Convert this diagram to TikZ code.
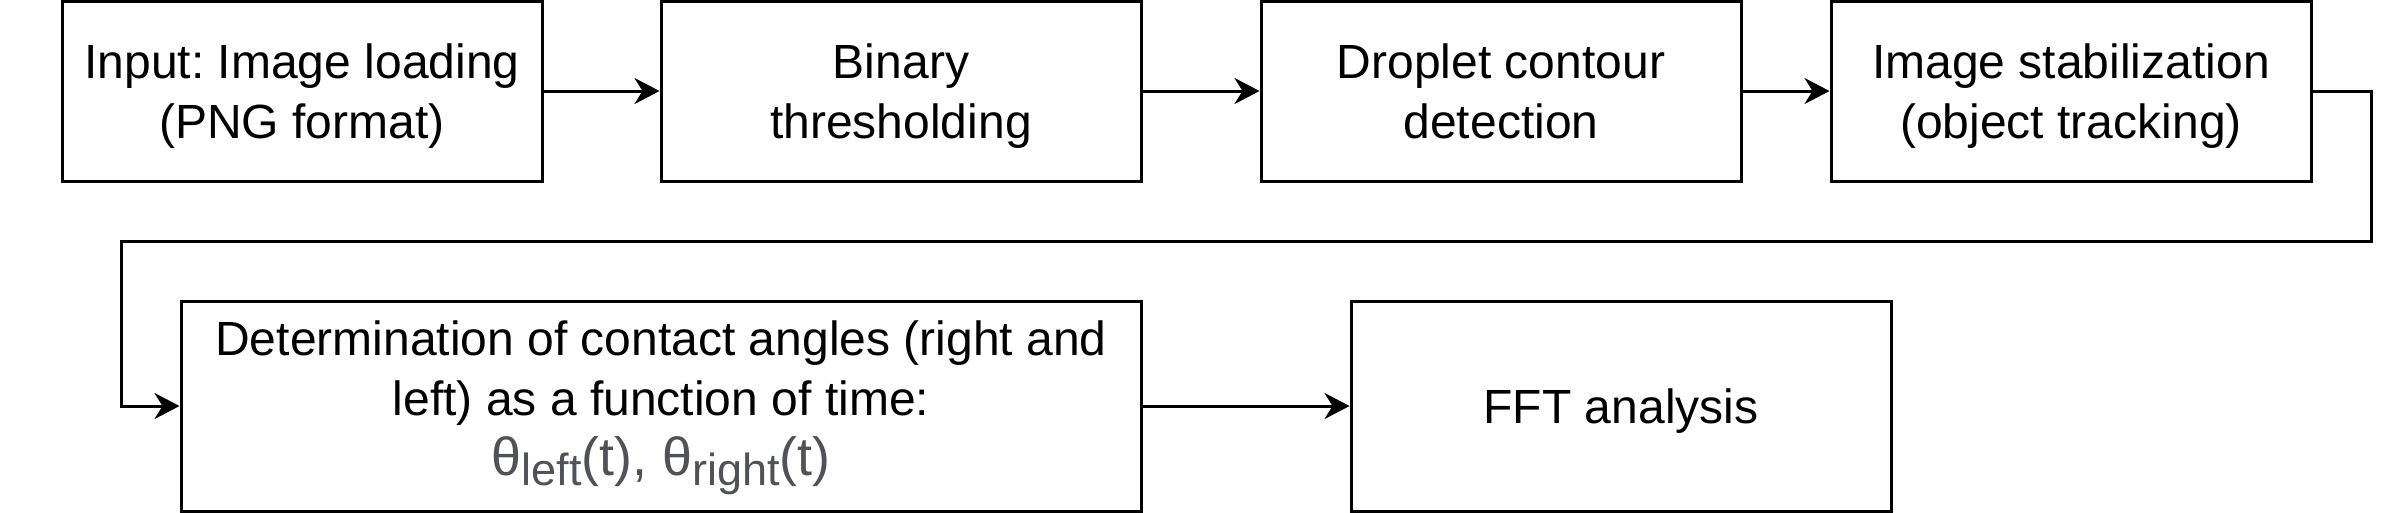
\documentclass[tikz,border=0pt]{standalone}
\usepackage{fontspec}
\setmainfont{Liberation Sans}
\frenchspacing
\usetikzlibrary{arrows.meta}
\definecolor{thetagray}{RGB}{80,82,88}
\newcommand{\sublow}[1]{\raisebox{-1mm}{\fontsize{12.8pt}{13pt}\selectfont #1}}
\begin{document}
\begin{tikzpicture}[x = 0.1mm, y = -0.1mm,
    stage/.style = {draw, line width = 0.3mm, rectangle, align = center,
        minimum width = 48mm, minimum height = 18mm, inner sep = 0pt,
        text depth = 0pt, font = \fontsize{13.66pt}{17.07pt}\selectfont},
    flow/.style  = {line width = 0.3mm,
        -{Stealth[length = 2.5mm, width = 2.6mm, inset = 0.8mm]}}]

    \useasboundingbox (0, 0) rectangle (2388, 512);

    % first row
    \node [stage] (load)   at (302, 91)  {Input: Image loading\\(PNG format)};
    \node [stage] (binary) at (901, 91)  {Binary\\thresholding};
    \node [stage] (contour) at (1501, 91) {Droplet contour\\detection};
    \node [stage] (stab)   at (2071, 91) {Image stabilization\\(object tracking)};

    % second row
    \node [stage, minimum width = 96mm, minimum height = 21mm, text depth = 1.6mm] (angles) at (661, 406)
        {Determination of contact angles (right and\\left) as a function of time:\\
         \fontsize{15.3pt}{17.07pt}\selectfont
         \textcolor{thetagray}{θ\sublow{left}(t), θ\sublow{right}(t)}};
    \node [stage, minimum width = 54mm, minimum height = 21mm] (fft) at (1621, 406)
        {FFT analysis};

    % return line
    \coordinate (turnR) at (2371, 241);
    \coordinate (turnL) at (121, 241);

    \draw [flow] (load) -- (binary);
    \draw [flow] (binary) -- (contour);
    \draw [flow] (contour) -- (stab);
    \draw [flow] (stab.east) -| (turnR) -- (turnL) |- (angles.west);
    \draw [flow] (angles) -- (fft);

\end{tikzpicture}
\end{document}
